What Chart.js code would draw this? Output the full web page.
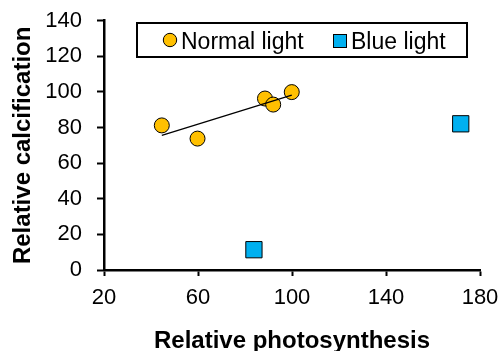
<!DOCTYPE html>
<html>
<head>
<meta charset="utf-8">
<script src="https://cdn.jsdelivr.net/npm/chart.js@4"></script>
<style>
  html, body { margin: 0; padding: 0; background: #fff; overflow: hidden; }
  #wrap { position: relative; width: 502px; height: 360px; }
</style>
</head>
<body>
<div id="wrap"><canvas id="chart"></canvas></div>
<script>
// values
const normalX = [44.6, 59.8, 88.5, 92.0, 99.9];
const normalY = [81.2, 73.8, 96.3, 92.9, 99.9];
const blueX = [83.8, 171.8];
const blueY = [11.4, 82.1];
const xTicks = [20, 60, 100, 140, 180];
const yTicks = [0, 20, 40, 60, 80, 100, 120, 140];

const orange = "#FFC000";
const blue = "#00B0F0";
const font = "'Liberation Sans', Arial, sans-serif";

// linear trendline of the normal-light points (as in the spreadsheet)
const n = normalX.length;
const mx = normalX.reduce((a, b) => a + b, 0) / n;
const my = normalY.reduce((a, b) => a + b, 0) / n;
let sxy = 0, sxx = 0;
normalX.forEach((x, i) => {
    sxy += (x - mx) * (normalY[i] - my);
    sxx += (x - mx) * (x - mx);
});
const slope = sxy / sxx;
const x0 = Math.min(...normalX), x1 = Math.max(...normalX);
const trend = [
    { x: x0, y: my + slope * (x0 - mx) },
    { x: x1, y: my + slope * (x1 - mx) }
];

// legend box drawn inside the plot, like the original
const boxLegend = {
    id: "boxLegend",
    afterDraw(chart) {
        const ctx = chart.ctx;
        ctx.save();
        ctx.lineWidth = 2;
        ctx.strokeStyle = "#000";
        ctx.strokeRect(137, 23, 330, 34);

        ctx.lineWidth = 1;
        ctx.fillStyle = orange;
        ctx.beginPath();
        ctx.arc(170, 40, 6.7, 0, Math.PI * 2);
        ctx.fill();
        ctx.stroke();

        ctx.fillStyle = blue;
        ctx.fillRect(333.5, 34.5, 13, 13);
        ctx.strokeRect(333.5, 34.5, 13, 13);

        ctx.fillStyle = "#000";
        ctx.font = "23px " + font;
        ctx.textBaseline = "alphabetic";
        ctx.textAlign = "left";
        const labels = chart.data.datasets.filter(d => d.label).map(d => d.label);
        ctx.fillText(labels[0], 181, 48.5);
        ctx.fillText(labels[1], 351, 48.5);
        ctx.restore();
    }
};

new Chart(document.getElementById("chart"), {
    type: "scatter",
    data: {
        datasets: [
            {
                type: "line",
                data: trend,
                borderColor: "#000",
                borderWidth: 1.3,
                pointRadius: 0,
                order: 0
            },
            {
                label: "Normal light",
                data: normalX.map((x, i) => ({ x, y: normalY[i] })),
                backgroundColor: orange,
                borderColor: "#000",
                borderWidth: 1,
                pointStyle: "circle",
                pointRadius: 7.5,
                order: 1
            },
            {
                label: "Blue light",
                data: blueX.map((x, i) => ({ x, y: blueY[i] })),
                backgroundColor: blue,
                borderColor: "#000",
                borderWidth: 1,
                pointStyle: "rect",
                pointRadius: 11.5,
                order: 1
            }
        ]
    },
    options: {
        responsive: true,
        maintainAspectRatio: false,
        animation: false,
        layout: { padding: { left: 0, right: 22, top: 20.7, bottom: 0 } },
        plugins: {
            legend: { display: false },
            tooltip: { enabled: false }
        },
        scales: {
            x: {
                type: "linear",
                min: 20,
                max: 180,
                afterBuildTicks: s => { s.ticks = xTicks.map(v => ({ value: v })); },
                afterFit: s => {
                    s.height = 90;
                    s.paddingLeft = 0;
                    s.paddingRight = 0;
                },
                grid: {
                    drawOnChartArea: false,
                    drawTicks: true,
                    tickLength: 6,
                    tickWidth: 2,
                    tickColor: "#000"
                },
                border: { display: true, color: "#000", width: 2.5 },
                ticks: {
                    color: "#000",
                    padding: 9,
                    maxRotation: 0,
                    font: { family: font, size: 22 }
                },
                title: {
                    display: true,
                    text: "Relative photosynthesis",
                    color: "#000",
                    padding: { top: 0, bottom: 4.4 },
                    font: { family: font, size: 24, weight: "bold" }
                }
            },
            y: {
                type: "linear",
                min: 0,
                max: 140,
                afterBuildTicks: s => { s.ticks = yTicks.map(v => ({ value: v })); },
                afterFit: s => {
                    s.width = 104;
                    s.paddingTop = 0;
                    s.paddingBottom = 0;
                },
                grid: {
                    drawOnChartArea: false,
                    drawTicks: true,
                    tickLength: 7,
                    tickWidth: 2,
                    tickColor: "#000"
                },
                border: { display: true, color: "#000", width: 2.5 },
                ticks: {
                    color: "#000",
                    padding: 15,
                    font: { family: font, size: 22 }
                },
                title: {
                    display: true,
                    text: "Relative calcification",
                    color: "#000",
                    padding: { top: 9, bottom: 0 },
                    font: { family: font, size: 24, weight: "bold" }
                }
            }
        }
    },
    plugins: [boxLegend]
});
</script>
</body>
</html>
